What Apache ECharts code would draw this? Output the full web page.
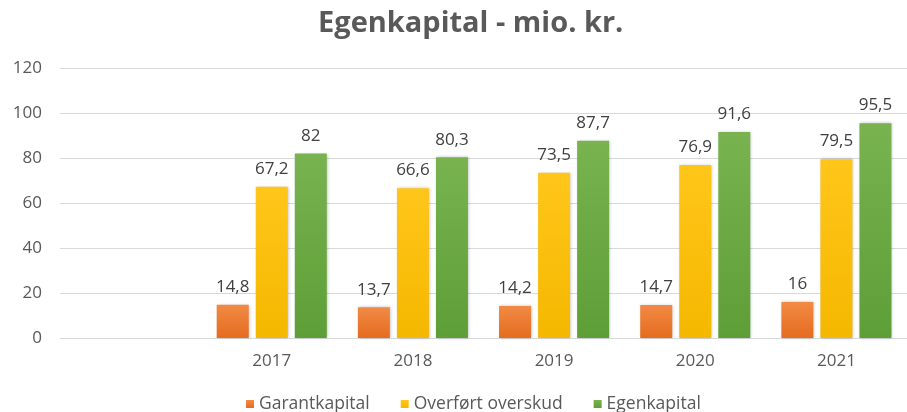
<!DOCTYPE html>
<html>
<head>
<meta charset="utf-8">
<script src="https://cdn.jsdelivr.net/npm/echarts@6/dist/echarts.min.js"></script>
<style>
  html, body { margin: 0; padding: 0; background: #fff; }
  #chart { width: 907px; height: 412px; }
</style>
</head>
<body>
<div id="chart"></div>
<script>
// first slot is empty in the original chart
const categories = ["", "2017", "2018", "2019", "2020", "2021"];
const garantkapital = [null, 14.8, 13.7, 14.2, 14.7, 16];
const overfortOverskud = [null, 67.2, 66.6, 73.5, 76.9, 79.5];
const egenkapital = [null, 82, 80.3, 87.7, 91.6, 95.5];
const seriesNames = ["Garantkapital", "Overført overskud", "Egenkapital"];

const textColor = "#595959";

function grad(top, bottom) {
  return new echarts.graphic.LinearGradient(0, 0, 0, 1, [
    { offset: 0, color: top },
    { offset: 1, color: bottom }
  ]);
}

function barSeries(name, data, top, bottom) {
  return {
    name: name,
    type: "bar",
    data: data,
    barWidth: 32,
    barGap: "22%",
    itemStyle: {
      color: grad(top, bottom),
      shadowColor: "rgba(0,0,0,0.25)",
      shadowBlur: 3,
      shadowOffsetX: 1
    },
    label: {
      show: true,
      position: "top",
      distance: 9,
      color: "#404040",
      fontFamily: "Open Sans",
      fontSize: 17,
      formatter: p => String(p.value).replace(".", ",")
    }
  };
}

const chart = echarts.init(document.getElementById("chart"));
chart.setOption({
  animation: false,
  color: ["#ED7D31", "#FFC000", "#70AD47"],
  title: {
    text: "Egenkapital - mio. kr.",
    left: 313,
    top: 4,
    textStyle: {
      fontFamily: "Open Sans",
      fontWeight: "bold",
      fontSize: 29,
      color: textColor
    }
  },
  legend: {
    data: seriesNames,
    left: 241,
    top: 390,
    itemWidth: 8,
    itemHeight: 8,
    itemGap: 31,
    icon: "rect",
    textStyle: {
      fontFamily: "Open Sans",
      fontSize: 17.5,
      color: textColor
    }
  },
  grid: {
    left: 60,
    top: 68,
    width: 857,
    height: 270
  },
  xAxis: {
    type: "category",
    data: categories,
    axisLine: { show: true, lineStyle: { color: "#d9d9d9" } },
    axisTick: { show: false },
    axisLabel: {
      color: textColor,
      fontFamily: "Open Sans",
      fontSize: 17,
      margin: 15
    }
  },
  yAxis: {
    type: "value",
    min: 0,
    max: 120,
    interval: 20,
    axisLine: { show: false },
    axisTick: { show: false },
    splitLine: { lineStyle: { color: "#d9d9d9" } },
    axisLabel: {
      color: textColor,
      fontFamily: "Open Sans",
      fontSize: 17,
      margin: 18
    }
  },
  series: [
    barSeries(seriesNames[0], garantkapital, "#F28A45", "#E46C1F"),
    barSeries(seriesNames[1], overfortOverskud, "#FFC61A", "#F5B800"),
    barSeries(seriesNames[2], egenkapital, "#78B34F", "#5E9E37")
  ]
});
</script>
</body>
</html>
